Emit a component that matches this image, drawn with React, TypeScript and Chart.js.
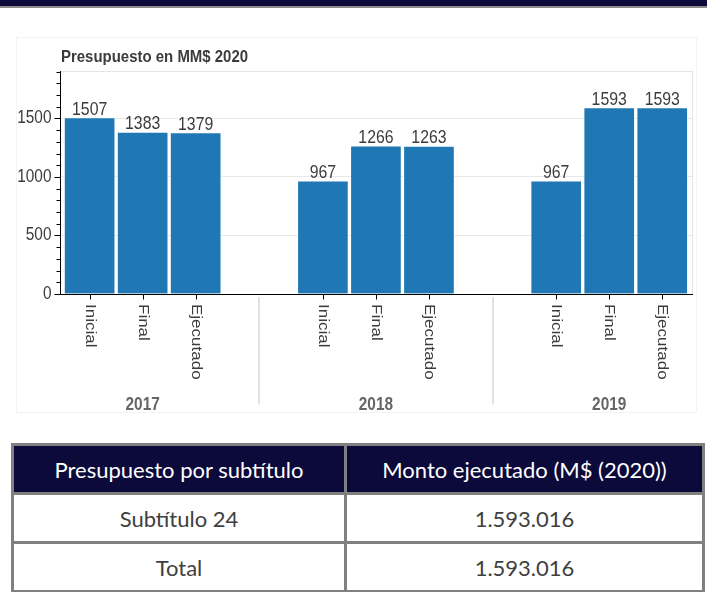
import React, { useEffect, useRef } from "react";
import { Chart, registerables } from "chart.js";

Chart.register(...registerables);

const chartTitle = "Presupuesto en MM$ 2020";
const years = ["2017", "2018", "2019"];
const stages = ["Inicial", "Final", "Ejecutado"];
const values2017 = [1507, 1383, 1379];
const values2018 = [967, 1266, 1263];
const values2019 = [967, 1593, 1593];
const yTicks = [0, 500, 1000, 1500];
const yMax = 1905;
const minorStep = 100;

const tableHeaders = ["Presupuesto por subtítulo", "Monto ejecutado (M$ (2020))"];
const tableRowLabels = ["Subtítulo 24", "Total"];
const tableRowValues = ["1.593.016", "1.593.016"];

const seriesByYear = [values2017, values2018, values2019];
const GROUP_PAD = 1.4;
const SQUEEZE = 0.88;
const FAMILY = "'Liberation Sans', Arial, sans-serif";
const NAVY = "#0b0a3b";

const factorPos = (g: number, f: number) => g * (stages.length + GROUP_PAD) + f + 0.5;

function drawText(
  ctx: CanvasRenderingContext2D,
  text: string,
  x: number,
  y: number,
  font: string,
  color: string,
  align: CanvasTextAlign,
  baseline: CanvasTextBaseline,
  rotate = false
) {
  ctx.save();
  ctx.translate(x, y);
  if (rotate) {
    ctx.rotate(Math.PI / 2);
    ctx.scale(1, SQUEEZE);
  } else {
    ctx.scale(SQUEEZE, 1);
  }
  ctx.font = font;
  ctx.fillStyle = color;
  ctx.textAlign = align;
  ctx.textBaseline = baseline;
  ctx.fillText(text, 0, 0);
  ctx.restore();
}

const decorPlugin = {
  id: "decor",
  afterDraw(chart: any) {
    const ctx: CanvasRenderingContext2D = chart.ctx;
    const { left, right, top, bottom } = chart.chartArea;
    const xs = chart.scales.x;
    const ys = chart.scales.y;
    ctx.save();

    // plot outline (top / right)
    ctx.strokeStyle = "#e5e5e5";
    ctx.lineWidth = 1;
    ctx.beginPath();
    ctx.moveTo(left, Math.round(top) + 0.5);
    ctx.lineTo(right, Math.round(top) + 0.5);
    ctx.moveTo(Math.round(right) - 0.5, top);
    ctx.lineTo(Math.round(right) - 0.5, bottom);
    ctx.stroke();

    // axes
    const ax = Math.round(left) - 0.5;
    const ay = Math.round(bottom) + 0.5;
    ctx.strokeStyle = "#000";
    ctx.beginPath();
    ctx.moveTo(ax, top);
    ctx.lineTo(ax, ay);
    ctx.moveTo(ax, ay);
    ctx.lineTo(right, ay);
    ctx.stroke();

    // y ticks major & minor
    ctx.beginPath();
    for (let v = 0; v <= yMax; v += minorStep) {
      const py = Math.round(ys.getPixelForValue(v)) + 0.5;
      const len = yTicks.includes(v) ? 6 : 4;
      ctx.moveTo(ax - len, py);
      ctx.lineTo(ax, py);
    }
    ctx.stroke();

    // y tick labels
    yTicks.forEach((v) => {
      drawText(ctx, String(v), ax - 9, ys.getPixelForValue(v), `17.5px ${FAMILY}`, "#3c3c3c", "right", "middle");
    });

    // x ticks and factor labels
    ctx.beginPath();
    years.forEach((_, g) => {
      stages.forEach((_, f) => {
        const px = Math.round(xs.getPixelForValue(factorPos(g, f))) + 0.5;
        ctx.moveTo(px, ay);
        ctx.lineTo(px, ay + 5);
      });
    });
    ctx.stroke();
    years.forEach((_, g) => {
      stages.forEach((s, f) => {
        const px = xs.getPixelForValue(factorPos(g, f));
        drawText(ctx, s, px, ay + 9.5, `17px ${FAMILY}`, "#3c3c3c", "left", "middle", true);
      });
    });

    // group separators
    ctx.strokeStyle = "#d9d9d9";
    ctx.lineWidth = 1.5;
    ctx.beginPath();
    for (let g = 0; g < years.length - 1; g++) {
      const mid = factorPos(g, stages.length - 1) + 0.5 + GROUP_PAD / 2;
      const px = Math.round(xs.getPixelForValue(mid));
      ctx.moveTo(px, ay + 2.5);
      ctx.lineTo(px, ay + 110);
    }
    ctx.stroke();

    // group labels
    years.forEach((yr, g) => {
      const c = xs.getPixelForValue(factorPos(g, 1));
      drawText(ctx, yr, c, ay + 111, `bold 17.5px ${FAMILY}`, "#666", "center", "middle");
    });

    // value labels
    const meta = chart.getDatasetMeta(0);
    meta.data.forEach((el: any, i: number) => {
      const v = chart.data.datasets[0].data[i].y;
      drawText(ctx, String(v), el.x, el.y - 3, `18px ${FAMILY}`, "#3c3c3c", "center", "alphabetic");
    });

    // title
    drawText(ctx, chartTitle, ax + 0.5, top - 9.5, `bold 17px ${FAMILY}`, "#3c3c3c", "left", "alphabetic");

    ctx.restore();
  },
};

function BarChart() {
  const ref = useRef<HTMLCanvasElement | null>(null);
  useEffect(() => {
    if (!ref.current) return;
    const points = years.flatMap((_, g) =>
      stages.map((_, f) => ({ x: factorPos(g, f), y: seriesByYear[g][f] }))
    );
    const chart = new Chart(ref.current, {
      type: "bar",
      data: {
        datasets: [
          {
            data: points as any,
            backgroundColor: "#1f77b4",
            borderColor: "rgba(255,255,255,0.35)",
            borderWidth: 1,
            barThickness: 51,
          },
        ],
      },
      options: {
        animation: false,
        responsive: false,
        devicePixelRatio: 1,
        layout: { padding: { left: 0, top: 34, right: 4, bottom: 119 } },
        plugins: { legend: { display: false }, tooltip: { enabled: false } },
        scales: {
          x: { type: "linear", min: -0.04, max: 11.88, offset: false, display: false },
          y: {
            min: 0,
            max: yMax,
            afterBuildTicks: (s: any) => {
              s.ticks = yTicks.map((v) => ({ value: v }));
            },
            afterFit: (s: any) => {
              s.width = 45;
            },
            grid: { color: "#e8e8e8", drawTicks: false },
            border: { display: false },
            ticks: { display: false },
          },
        },
      },
      plugins: [decorPlugin],
    });
    return () => chart.destroy();
  }, []);
  return <canvas ref={ref} width={681} height={376} style={{ width: 681, height: 376, display: "block" }} />;
}

export default function App() {
  const cellBorder = "3px solid #808080";
  const cellBase: React.CSSProperties = {
    border: cellBorder,
    textAlign: "center",
    verticalAlign: "middle",
    padding: 0,
    fontFamily: "Lato, 'Open Sans', sans-serif",
    fontSize: 22,
  };
  return (
    <div style={{ position: "absolute", left: 0, top: 0, width: 707, height: 592, background: "#fff", overflow: "hidden" }}>
      <div style={{ position: "absolute", left: 0, top: 0, width: 707, height: 6, background: NAVY }} />
      <div style={{ position: "absolute", left: 0, top: 6, width: 707, height: 1.5, background: "#8c8c8c" }} />
      <div
        style={{
          position: "absolute",
          left: 16,
          top: 37,
          width: 681,
          height: 376,
          boxSizing: "border-box",
          border: "1px solid #f3f3f3",
        }}
      />
      <div style={{ position: "absolute", left: 16, top: 37 }}>
        <BarChart />
      </div>
      <table
        style={{
          position: "absolute",
          left: 11,
          top: 443,
          width: 691,
          borderCollapse: "collapse",
          tableLayout: "fixed",
        }}
      >
        <colgroup>
          <col style={{ width: 333 }} />
          <col style={{ width: 358 }} />
        </colgroup>
        <tbody>
          <tr style={{ height: 49 }}>
            {tableHeaders.map((h) => (
              <td key={h} style={{ ...cellBase, background: NAVY, color: "#fff" }}>
                {h}
              </td>
            ))}
          </tr>
          {tableRowLabels.map((lab, i) => (
            <tr key={lab} style={{ height: 49 }}>
              <td style={{ ...cellBase, color: "#404040" }}>{lab}</td>
              <td style={{ ...cellBase, color: "#404040" }}>{tableRowValues[i]}</td>
            </tr>
          ))}
        </tbody>
      </table>
    </div>
  );
}
